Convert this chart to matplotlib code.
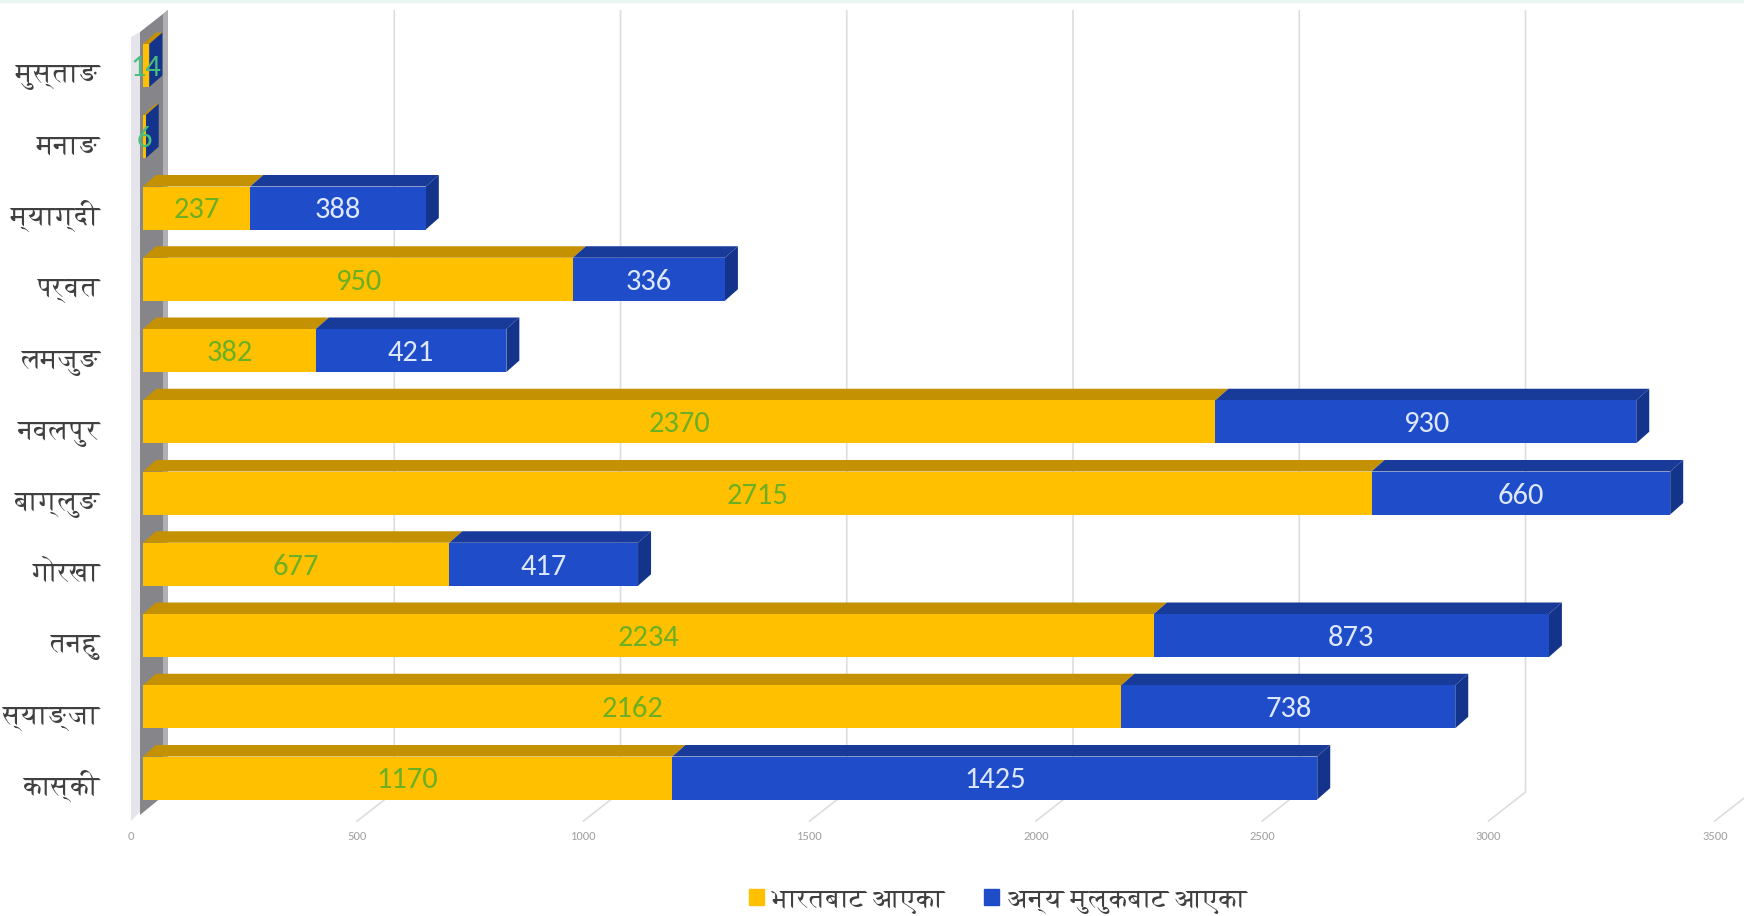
import matplotlib
matplotlib.use("Agg")
import matplotlib.pyplot as plt
from matplotlib.patches import Patch, Rectangle
from matplotlib.transforms import ScaledTranslation

# --- data (top to bottom in the chart) ---
categories = ["मुस्ताङ", "मनाङ", "म्याग्दी", "पर्वत", "लमजुङ", "नवलपुर", "बाग्लुङ", "गोरखा", "तनहु", "स्याङ्जा", "कास्की"]
india = [14, 6, 237, 950, 382, 2370, 2715, 677, 2234, 2162, 1170]
other = [0, 0, 388, 336, 421, 930, 660, 417, 873, 738, 1425]
x_ticks = [0, 500, 1000, 1500, 2000, 2500, 3000, 3500]
series_names = ["भारतबाट आएका", "अन्य मुलुकबाट आएका"]

YELLOW, YELLOW_TOP = "#FFC000", "#C49102"
BLUE, BLUE_TOP, BLUE_SIDE = "#1F4CC9", "#183A99", "#14348C"
DEV_FONT = ["FreeSerif", "DejaVu Sans"]
NUM_FONT = ["Carlito", "Lato", "DejaVu Sans"]

W, H = 1744, 916
PX_PER_UNIT = 0.4525
PX_PER_CAT = 71.25
X0_PX, Y0_PX = 143, 778          # value 0 / bottom category centre, in pixels

fig = plt.figure(figsize=(W / 100, H / 100), dpi=100, facecolor="white")
AX_BOTTOM_PX = 820
ax = fig.add_axes([X0_PX / W, 1 - AX_BOTTOM_PX / H, 1 - X0_PX / W, AX_BOTTOM_PX / H])
ax.set_xlim(0, (W - X0_PX) / PX_PER_UNIT)
ypos = [len(categories) - 1 - i for i in range(len(categories))]
ax.set_ylim((Y0_PX - AX_BOTTOM_PX) / PX_PER_CAT, Y0_PX / PX_PER_CAT)
for s in ax.spines.values():
    s.set_visible(False)
ax.patch.set_alpha(0)

ux = 1 / PX_PER_UNIT   # one pixel in x data units
uy = 1 / PX_PER_CAT    # one pixel in y data units

fig.patches.append(Rectangle((0, 1 - 2 / H), 1, 2 / H, transform=fig.transFigure, color="#E6F7F3", zorder=0))


def pts(px_list):
    return [(px - X0_PX) * ux for px, _ in px_list], [(Y0_PX - py) * uy for _, py in px_list]


# side wall
kw = dict(clip_on=False, lw=0)
ax.fill(*pts([(131, 37), (140, 32), (140, 812), (131, 821)]), color="#E4E4EA", zorder=1, **kw)
ax.fill(*pts([(140, 32), (168, 10), (168, 792), (140, 815)]), color="#86868A", zorder=1, **kw)
ax.fill(*pts([(163, 14), (168, 10), (168, 792), (163, 796)]), color="#B0B0B2", zorder=1, **kw)

# gridlines: back wall plus the diagonal on the floor
BACK_DX, FRONT_DX = 25, -12
for t in x_ticks[1:]:
    xb = t + BACK_DX * ux
    xf = t + FRONT_DX * ux
    ax.plot([xb, xb, xf], [(Y0_PX - 11) * uy, (Y0_PX - 792) * uy, (Y0_PX - 821) * uy],
            color="#DDDDDD", lw=1.2, clip_on=False, zorder=1)

# bars
BAR_H = 43 / PX_PER_CAT
dx, dy = 13 * ux, 11.5 * uy
TEXT_DROP = 2.5 * uy
ax.barh(ypos, india, height=BAR_H, color=YELLOW, lw=0, zorder=3)
ax.barh(ypos, other, left=india, height=BAR_H, color=BLUE, lw=0, zorder=3)
for y, a, b in zip(ypos, india, other):
    yt, yb = y + BAR_H / 2, y - BAR_H / 2
    ax.fill([0, a, a + dx, dx], [yt, yt, yt + dy, yt + dy], color=YELLOW_TOP, lw=0, zorder=2)
    ax.fill([a, a + b, a + b + dx, a + dx], [yt, yt, yt + dy, yt + dy], color=BLUE_TOP, lw=0, zorder=2)
    e = a + b
    ax.fill([e, e + dx, e + dx, e], [yt, yt + dy, yb + dy, yb], color=BLUE_SIDE, lw=0, zorder=2)
    small = a < 50
    ax.text(a / 2, y - TEXT_DROP, str(a), ha="center", va="center", fontsize=22, family=NUM_FONT,
            color="#46BE80" if small else "#6BB024", zorder=5)
    if b:
        ax.text(a + b / 2, y - TEXT_DROP, str(b), ha="center", va="center", fontsize=22, family=NUM_FONT,
                color="#DDE8FF", zorder=5)

# axes ticks
ax.set_yticks(ypos, categories, family=DEV_FONT, fontsize=19.5, color="#404040")
ax.tick_params(axis="y", length=0, pad=(X0_PX - 100) * 0.72)
ax.set_xticks(x_ticks, [str(t) for t in x_ticks], family=NUM_FONT, fontsize=9, color="#A0A0A0")
ax.tick_params(axis="x", length=0, pad=11 * 0.72)
xshift = ScaledTranslation(-12 / 100, 0, fig.dpi_scale_trans)
for lab in ax.get_xticklabels():
    lab.set_transform(lab.get_transform() + xshift)
yshift = ScaledTranslation(0, -17 / 100, fig.dpi_scale_trans)
for lab in ax.get_yticklabels():
    lab.set_verticalalignment("baseline")
    lab.set_transform(lab.get_transform() + yshift)

# legend
handles = [Patch(color=YELLOW, label=series_names[0]), Patch(color=BLUE, label=series_names[1])]
leg = fig.legend(handles=handles, loc="center", bbox_to_anchor=(998 / W, 1 - 901 / H), ncol=2, frameon=False,
                 prop={"family": DEV_FONT, "size": 19}, handlelength=0.55, handleheight=0.55,
                 handletextpad=0.3, columnspacing=1.5, labelcolor="#404040")

fig.savefig("out.png", dpi=100)
